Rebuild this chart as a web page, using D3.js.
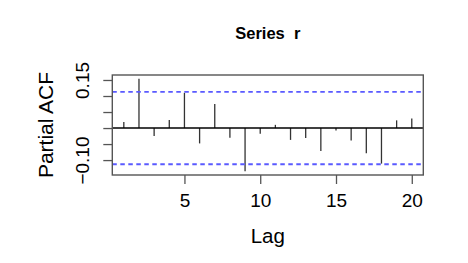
<!DOCTYPE html>
<html>
<head>
<meta charset="utf-8">
<script src="https://cdn.jsdelivr.net/npm/d3@7"></script>
<style>
  body { margin: 0; background: #fff; }
  svg { display: block; font-family: "Liberation Sans", Arial, sans-serif; }
</style>
</head>
<body>
<svg id="chart" width="468" height="263"></svg>
<script>
// partial autocorrelations, lags 1..20
const lags = d3.range(1, 21);
const pacfValues = [0.019, 0.154, -0.025, 0.025, 0.110, -0.048, 0.075, -0.030, -0.135, -0.018,
                    0.010, -0.037, -0.031, -0.072, -0.008, -0.039, -0.079, -0.111, 0.024, 0.030];
const ciBound = 0.113;   // blue dashed significance bounds
const xTicks = [5, 10, 15, 20];
const yTicks = [-0.10, -0.05, 0, 0.05, 0.10, 0.15];
const yLabelled = [-0.10, 0.15];
const title = "Series  r";
const xTitle = "Lag";
const yTitle = "Partial ACF";

const plot = { left: 112.3, right: 423.3, top: 75, bottom: 175 };

// R style 4% padding on the data range
function padRange(ext) {
  const d = (ext[1] - ext[0]) * 0.04;
  return [ext[0] - d, ext[1] + d];
}

const data = lags.map((lag, i) => ({ lag: lag, value: pacfValues[i] }));

const x = d3.scaleLinear()
  .domain(padRange(d3.extent(lags)))
  .range([plot.left, plot.right]);

const y = d3.scaleLinear()
  .domain(padRange(d3.extent(pacfValues.concat([ciBound, -ciBound]))))
  .range([plot.bottom, plot.top]);

const svg = d3.select("#chart");

// bars
svg.append("g").attr("class", "bars")
  .selectAll("line").data(data).enter()
  .append("line")
    .attr("x1", d => x(d.lag)).attr("x2", d => x(d.lag))
    .attr("y1", y(0)).attr("y2", d => y(d.value))
    .attr("stroke", "#333")
    .attr("stroke-width", 1.3);

// zero line
svg.append("line")
  .attr("x1", plot.left).attr("x2", plot.right)
  .attr("y1", y(0)).attr("y2", y(0))
  .attr("stroke", "#000")
  .attr("stroke-width", 1.5);

// confidence bounds
svg.append("g").selectAll("line").data([ciBound, -ciBound]).enter()
  .append("line")
    .attr("x1", plot.left).attr("x2", plot.right)
    .attr("y1", d => y(d)).attr("y2", d => y(d))
    .attr("stroke", "#5a5aff")
    .attr("stroke-width", 1.8)
    .attr("stroke-dasharray", "4.5,3.5");

// x axis
const xAxisG = svg.append("g")
  .attr("transform", "translate(0," + plot.bottom + ")")
  .call(d3.axisBottom(x).tickValues(xTicks).tickSize(9).tickSizeOuter(0).tickPadding(9.5));

// y axis, labels only on some ticks and rotated like R
const yAxisG = svg.append("g")
  .attr("transform", "translate(" + plot.left + ",0)")
  .call(d3.axisLeft(y).tickValues(yTicks).tickSize(9).tickSizeOuter(0)
    .tickFormat(d => yLabelled.some(v => Math.abs(v - d) < 1e-9) ? d3.format(".2f")(d) : ""));

yAxisG.selectAll(".tick text")
  .attr("transform", "rotate(-90)")
  .attr("x", 0)
  .attr("y", -23.3)
  .attr("dy", 0)
  .attr("text-anchor", "middle");

[xAxisG, yAxisG].forEach(g => {
  g.select(".domain").remove();
  g.selectAll(".tick line").attr("stroke", "#555").attr("stroke-width", 1.3);
  g.selectAll(".tick text")
    .attr("fill", "#000")
    .style("font-size", "19px")
    .style("font-family", "'Liberation Sans', Arial, sans-serif");
});

// plot frame
svg.append("rect")
  .attr("x", plot.left).attr("y", plot.top)
  .attr("width", plot.right - plot.left)
  .attr("height", plot.bottom - plot.top)
  .attr("fill", "none")
  .attr("stroke", "#555")
  .attr("stroke-width", 1.4);

// titles
svg.append("text")
  .attr("x", (plot.left + plot.right) / 2).attr("y", 39)
  .attr("text-anchor", "middle")
  .style("font-size", "16.5px").style("font-weight", "bold")
  .style("white-space", "pre")
  .text(title);

svg.append("text")
  .attr("x", (plot.left + plot.right) / 2).attr("y", 243)
  .attr("text-anchor", "middle")
  .style("font-size", "20.5px")
  .text(xTitle);

svg.append("text")
  .attr("transform", "translate(53," + ((plot.top + plot.bottom) / 2) + ") rotate(-90)")
  .attr("text-anchor", "middle")
  .style("font-size", "21px")
  .text(yTitle);
</script>
</body>
</html>
